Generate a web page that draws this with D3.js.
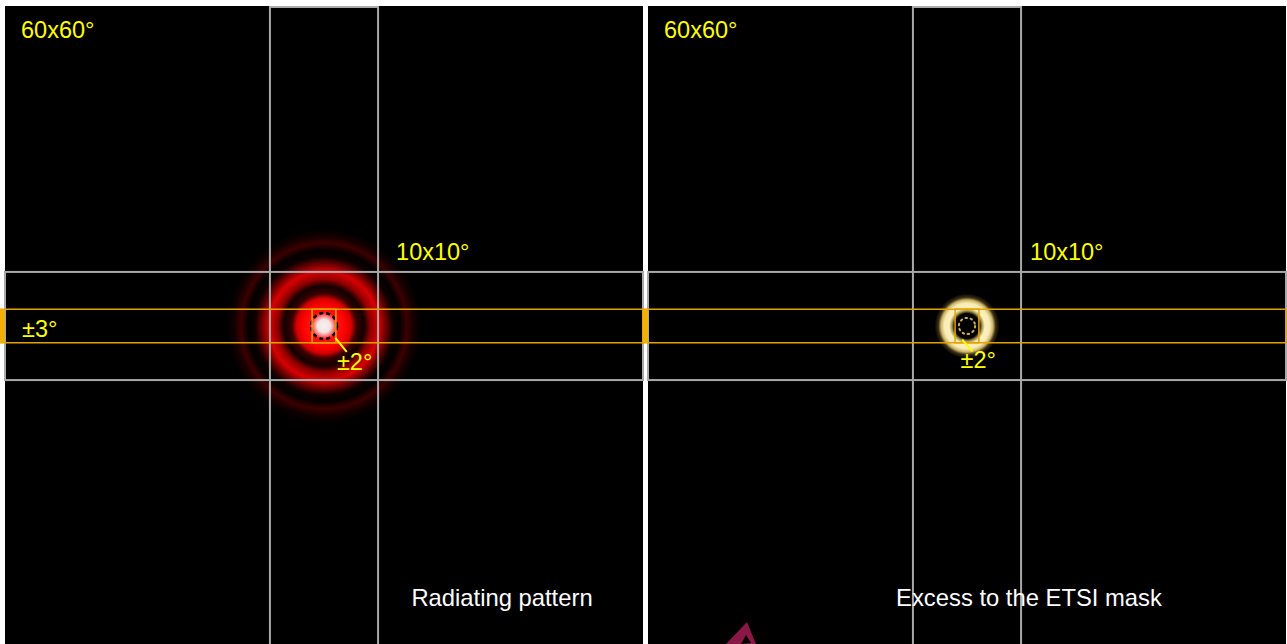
<html>
	<head>
		<title>Radiating pattern vs ETSI mask</title>
		<style type='text/css'>
			body {
				margin: 0;
				background: #fff;
				font-family: Arial, "Liberation Sans", Helvetica, sans-serif;
			}
			.grid { fill: none; stroke: #a9a9a9; stroke-width: 2px; }
			.band { fill: none; stroke: #e6a200; stroke-width: 1.5px; }
			.label { fill: #ffff00; font-size: 23.5px; }
			.caption { fill: #fff; font-size: 23.8px; }
		</style>
	</head>
	<body>
		<script src="https://cdn.jsdelivr.net/npm/d3@7"></script>
		<script type="text/javascript">
			// angular extents, degrees
			var panelNames = ["Radiating pattern", "Excess to the ETSI mask"],
				fieldHalf = 29.5,
				boxHalf = 5,
				bandHalf = 1.55,
				spotHalf = 1.1,
				fieldLabel = "60x60\u00b0",
				boxLabel = "10x10\u00b0",
				bandLabel = "\u00b13\u00b0",
				spotLabel = "\u00b12\u00b0";

			// radial profile of the radiating pattern: [radius deg, colour]
			var patternRadius = 9,
				patternStops = [
					[0.0, "#f2f2f2"], [0.6, "#f6e2e2"], [0.95, "#ff7676"], [1.25, "#ff1414"],
					[2.0, "#ff0000"], [2.55, "#d00000"], [3.0, "#3a0000"], [3.7, "#120000"],
					[4.3, "#8e0000"], [5.05, "#d80000"], [5.75, "#6a0000"], [6.4, "#0e0000"],
					[7.0, "#040000"], [7.65, "#3c0000"], [8.3, "#140000"], [9.0, "#000000"]
				];

			// radial profile of the excess over the mask
			var excessRadius = 3,
				excessStops = [
					[0.0, "#000000"], [1.15, "#000000"], [1.4, "#a89448"], [1.65, "#fbf0c0"],
					[2.1, "#f8ecb4"], [2.4, "#cdb468"], [2.65, "#3a3014"], [3.0, "#000000"]
				];

			var width = 1287,
				height = 644,
				panelTop = 6,
				panelW = 638,
				gap = 5;

			var layout = [
				{x0: 5, ring: "#000", ringDash: "4 3", ringW: 2.5, ringR: 1.2, boxText: 18,
					spotText: [1.2, -4.1], lead: [[1.05, -1.1], [2.1, -2.4]], capX: 497},
				{x0: 648, ring: "#c8ae58", ringDash: "1.6 3.6", ringW: 2, ringR: 0.75, boxText: 9,
					spotText: [-0.6, -3.9], lead: [[-0.45, -1.25], [0.5, -2.35]], capX: 381}
			];

			var svg = d3.select("body").append("svg")
				.attr("width", width)
				.attr("height", height);

			var defs = svg.append("defs");

			panelNames.forEach(function(name, i) {
				var L = layout[i];
				var x = d3.scaleLinear().domain([-fieldHalf, fieldHalf]).range([L.x0, L.x0 + panelW]);
				var y = d3.scaleLinear().domain([fieldHalf, -fieldHalf]).range([panelTop + 1, panelTop + 1 + panelW]);
				var r = function(d) { return x(d) - x(0); };

				var g = svg.append("g").attr("class", "panel");

				g.append("rect")
					.attr("x", x(-fieldHalf)).attr("y", panelTop)
					.attr("width", x(fieldHalf) - x(-fieldHalf))
					.attr("height", height - panelTop)
					.attr("fill", "#000");

				var stops = i == 0 ? patternStops : excessStops,
					rad = i == 0 ? patternRadius : excessRadius;

				var grad = defs.append("radialGradient")
					.attr("id", "grad" + i)
					.attr("gradientUnits", "userSpaceOnUse")
					.attr("cx", x(0)).attr("cy", y(0)).attr("r", r(rad));
				grad.selectAll("stop").data(stops).enter().append("stop")
					.attr("offset", function(d) { return d[0] / rad; })
					.attr("stop-color", function(d) { return d[1]; });

				g.append("circle")
					.attr("cx", x(0)).attr("cy", y(0)).attr("r", r(rad))
					.attr("fill", "url(#grad" + i + ")");

				g.append("circle")
					.attr("cx", x(0)).attr("cy", y(0)).attr("r", r(L.ringR))
					.attr("fill", "none")
					.attr("stroke", L.ring)
					.attr("stroke-width", L.ringW)
					.attr("stroke-linecap", i == 0 ? "butt" : "round")
					.attr("stroke-dasharray", L.ringDash);

				// 10x10 strips
				g.append("rect").attr("class", "grid")
					.attr("x", x(-boxHalf)).attr("y", panelTop + 1)
					.attr("width", x(boxHalf) - x(-boxHalf))
					.attr("height", height);
				g.append("rect").attr("class", "grid")
					.attr("x", x(-fieldHalf)).attr("y", y(boxHalf))
					.attr("width", x(fieldHalf) - x(-fieldHalf))
					.attr("height", y(-boxHalf) - y(boxHalf));

				// elevation band and spot
				g.append("rect").attr("class", "band")
					.attr("x", x(-fieldHalf) - gap).attr("y", y(bandHalf))
					.attr("width", x(fieldHalf) - x(-fieldHalf) + gap)
					.attr("height", y(-bandHalf) - y(bandHalf));
				g.append("rect")
					.attr("x", x(-fieldHalf) - gap).attr("y", y(bandHalf))
					.attr("width", gap)
					.attr("height", y(-bandHalf) - y(bandHalf))
					.attr("fill", "#f2b000");
				g.append("rect").attr("class", "band")
					.attr("x", x(-spotHalf)).attr("y", y(bandHalf))
					.attr("width", x(spotHalf) - x(-spotHalf))
					.attr("height", y(-bandHalf) - y(bandHalf));

				g.append("line")
					.attr("x1", x(L.lead[0][0])).attr("y1", y(L.lead[0][1]))
					.attr("x2", x(L.lead[1][0])).attr("y2", y(L.lead[1][1]))
					.attr("stroke", "#ffff00").attr("stroke-width", 2);

				g.append("text").attr("class", "label")
					.attr("x", x(-fieldHalf) + 16).attr("y", 38)
					.text(fieldLabel);
				g.append("text").attr("class", "label")
					.attr("x", x(boxHalf) + L.boxText).attr("y", y(boxHalf) - 12)
					.text(boxLabel);
				if (i == 0) {
					g.append("text").attr("class", "label")
						.attr("x", x(-fieldHalf) + 17).attr("y", y(-1.05))
						.text(bandLabel);
				}
				g.append("text").attr("class", "label")
					.attr("x", x(L.spotText[0])).attr("y", y(L.spotText[1]))
					.text(spotLabel);

				g.append("text").attr("class", "caption")
					.attr("x", x(-fieldHalf) + L.capX).attr("y", 606)
					.attr("text-anchor", "middle")
					.text(name);
			});

			// small crimson mark at the bottom edge
			var markOuter = [[726, 644], [747, 622], [756, 644]],
				markInner = [[741, 644], [746, 635], [751, 643]];
			svg.append("path")
				.attr("d", d3.line()(markOuter) + "Z")
				.attr("fill", "#8a1846");
			svg.append("path")
				.attr("d", d3.line()(markInner) + "Z")
				.attr("fill", "#000");
		</script>
	</body>
</html>
